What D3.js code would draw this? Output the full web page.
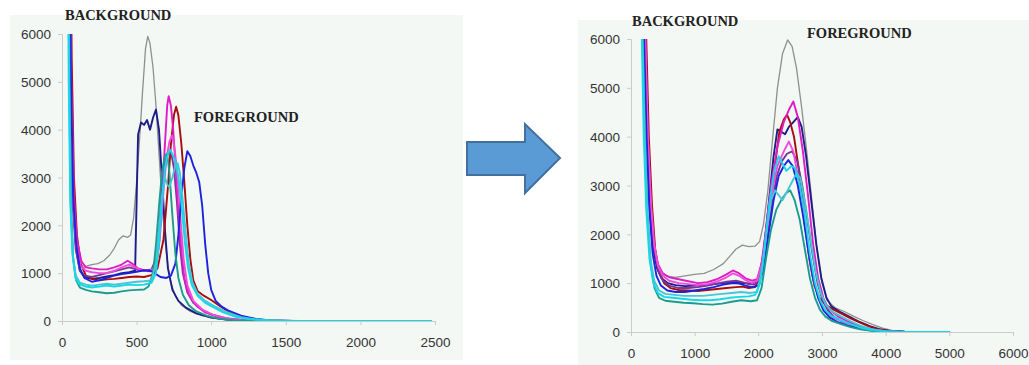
<!DOCTYPE html>
<html>
<head>
<meta charset="utf-8">
<script src="https://cdn.jsdelivr.net/npm/d3@7"></script>
<style>
  body { margin: 0; background: #fff; }
  svg { display: block; }
  .tick text { font-family: "Liberation Sans", Arial, sans-serif; font-size: 13.5px; fill: #333; }
  .lbl { font-family: "Liberation Serif", "Times New Roman", serif; font-weight: bold; font-size: 14.5px; fill: #222; }
</style>
</head>
<body>
<div id="chart"></div>
<script>
// --- data: histograms before (left) and after (right) ---
const seriesNames = ['gray', 'navy', 'darkred', 'purple', 'magenta', 'pink', 'blue', 'teal', 'lightcyan', 'cyan']
const seriesColors = ['#8f8f8f', '#1d1d8a', '#a80c0c', '#7a3598', '#e01cc6', '#f04cdc', '#1c22e0', '#1a9c8e', '#46c6d6', '#18d6e8']

const leftXTicks = [0, 500, 1000, 1500, 2000, 2500]
const rightXTicks = [0, 1000, 2000, 3000, 4000, 5000, 6000]
const yTicks = [0, 1000, 2000, 3000, 4000, 5000, 6000]

const leftGray = [[45,9000],[55,5000],[70,2500],[90,1600],[110,1250],[140,1120],[170,1150],[200,1180],[240,1200],[280,1260],[320,1380],[350,1520],[380,1700],[410,1780],[440,1750],[460,1800],[480,2150],[500,2900],[520,3800],[540,4800],[560,5700],[575,5950],[590,5800],[610,5300],[630,4500],[650,3500],[670,2500],[690,1700],[710,1150],[730,800],[760,520],[800,330],[860,200],[930,120],[1000,70],[1100,30],[1250,10],[1500,0],[2480,0]]
const leftNavy = [[50,9000],[60,5000],[75,2500],[95,1500],[120,1050],[150,920],[200,880],[250,900],[300,930],[350,960],[400,1000],[450,1020],[490,1050],[500,2500],[510,3900],[530,4150],[550,4100],[570,4200],[590,4000],[610,4250],[630,4420],[650,4000],[670,3000],[690,1900],[710,1100],[740,650],[780,420],[830,280],[900,160],[1000,70],[1100,30],[1250,8],[1500,0],[2480,0]]
const leftDarkred = [[55,9000],[65,5500],[80,3000],[100,1800],[125,1200],[160,950],[200,880],[250,850],[300,870],[350,880],[400,900],[450,920],[500,930],[550,920],[600,960],[640,1100],[680,1700],[710,2800],[730,3700],[750,4300],[765,4480],[780,4300],[800,3700],[820,2900],[840,2000],[860,1300],[880,850],[910,620],[950,530],[1000,440],[1050,330],[1100,230],[1150,150],[1200,90],[1300,35],[1400,10],[1550,0],[2480,0]]
const leftPurple = [[48,9000],[58,5000],[72,2500],[92,1500],[120,1050],[150,950],[200,920],[250,960],[300,1000],[350,1040],[400,1080],[450,1120],[500,1080],[550,1050],[600,1080],[630,1300],[650,1900],[670,2800],[690,3300],[710,3500],[730,3550],[750,3200],[770,2500],[790,1600],[810,1000],[840,600],[880,380],[940,230],[1000,140],[1100,60],[1200,20],[1350,5],[1500,0],[2480,0]]
const leftMagenta = [[50,9000],[62,5000],[80,2600],[100,1700],[130,1250],[160,1120],[200,1100],[250,1080],[300,1080],[350,1120],[400,1180],[440,1260],[470,1200],[510,1100],[560,1050],[600,1060],[630,1150],[650,1600],[670,2600],[690,3700],[705,4500],[715,4700],[730,4500],[745,4000],[760,3300],[780,2300],[800,1500],[820,900],[850,550],[900,320],[960,180],[1050,80],[1150,30],[1300,8],[1500,0],[2480,0]]
const leftPink = [[48,9000],[58,5000],[75,2500],[95,1600],[125,1150],[160,1050],[200,1020],[250,1000],[300,1000],[350,1050],[400,1120],[450,1180],[490,1120],[540,1050],[590,1040],[630,1150],[655,1700],[680,2700],[700,3400],[720,3750],[738,3880],[755,3600],[775,3000],[795,2100],[815,1300],[840,750],[880,420],[940,240],[1020,120],[1120,45],[1250,10],[1450,0],[2480,0]]
const leftBlue = [[50,9000],[60,5000],[75,2600],[95,1600],[120,1100],[150,900],[200,820],[250,850],[300,900],[350,950],[400,980],[450,1000],[500,1030],[550,1060],[600,1040],[630,980],[660,920],[700,900],[730,950],[760,1200],[780,1800],[800,2600],[820,3200],[840,3550],[860,3450],[880,3250],[900,3100],[920,2900],[940,2400],[960,1600],[980,1000],[1000,650],[1030,420],[1070,300],[1120,210],[1200,110],[1300,45],[1400,12],[1550,0],[2480,0]]
const leftTeal = [[42,9000],[50,5000],[60,2500],[75,1300],[95,850],[120,700],[160,650],[200,620],[250,600],[300,580],[350,590],[400,620],[450,640],[500,650],[550,660],[580,720],[610,1000],[630,1600],[650,2400],[670,3100],[690,3450],[705,3500],[720,3100],[740,2200],[760,1400],[780,900],[810,550],[850,330],[900,200],[970,110],[1050,50],[1150,15],[1300,0],[2480,0]]
const leftLightcyan = [[40,9000],[48,5000],[58,2500],[72,1400],[92,950],[120,800],[160,760],[200,740],[250,760],[300,780],[350,760],[400,780],[450,800],[500,820],[550,830],[600,850],[630,1200],[650,1900],[670,2600],[690,3000],[705,2850],[720,2800],[740,3000],[760,3250],[775,3300],[790,3100],[810,2500],[830,1800],[850,1200],[875,800],[910,560],[960,420],[1020,310],[1100,190],[1200,80],[1300,30],[1450,5],[1600,0],[2480,0]]
const leftCyan = [[38,9000],[45,5000],[55,2500],[70,1400],[90,900],[120,760],[160,720],[200,700],[250,720],[300,740],[350,720],[400,740],[450,760],[500,750],[550,760],[600,800],[630,1000],[650,1600],[670,2500],[690,3200],[710,3500],[725,3580],[745,3450],[765,3300],[785,2900],[805,2300],[825,1600],[845,1100],[870,750],[910,520],[960,380],[1020,280],[1080,180],[1150,100],[1250,40],[1400,10],[1600,0],[2480,0]]

const rightGray = [[180,9000],[200,6000],[230,4000],[270,2800],[320,2000],[380,1500],[450,1250],[550,1150],[700,1120],[850,1150],[1000,1180],[1150,1200],[1300,1280],[1450,1400],[1550,1550],[1650,1700],[1750,1780],[1850,1750],[1950,1760],[2020,1850],[2080,2200],[2150,2900],[2220,3900],[2300,5000],[2380,5700],[2460,5980],[2530,5850],[2600,5400],[2680,4600],[2760,3700],[2840,2700],[2920,1700],[3000,1000],[3080,650],[3200,500],[3350,420],[3500,320],[3650,230],[3800,150],[3950,80],[4100,35],[4300,10],[4600,0],[5000,0]]
const rightNavy = [[170,9000],[210,6000],[250,4000],[300,2500],[350,1700],[410,1300],[480,1100],[580,1000],[700,960],[850,940],[1000,950],[1150,960],[1300,980],[1450,1000],[1600,1020],[1750,1000],[1900,990],[2000,1050],[2080,1600],[2160,2600],[2240,3600],[2300,4150],[2360,4100],[2420,4050],[2480,4200],[2550,4300],[2620,4400],[2680,4200],[2750,3600],[2830,2700],[2910,1800],[2990,1100],[3070,700],[3150,520],[3300,400],[3450,300],[3600,200],[3750,120],[3900,60],[4050,25],[4300,5],[4600,0],[5000,0]]
const rightDarkred = [[190,9000],[240,6000],[280,4000],[330,2600],[380,1700],[440,1250],[520,1000],[620,900],[750,860],[900,850],[1050,840],[1200,860],[1350,880],[1500,900],[1650,920],[1750,930],[1850,900],[1950,920],[2050,1200],[2150,2200],[2250,3300],[2330,4100],[2400,4350],[2450,4450],[2500,4300],[2560,4000],[2640,3300],[2720,2400],[2800,1500],[2880,950],[2960,700],[3050,560],[3150,480],[3300,380],[3450,280],[3600,190],[3750,110],[3900,50],[4050,20],[4300,0],[5000,0]]
const rightPurple = [[180,9000],[225,6000],[265,4000],[315,2500],[365,1700],[430,1250],[500,1050],[600,950],[750,900],[900,900],[1050,920],[1200,950],[1350,990],[1500,1030],[1650,1050],[1750,1020],[1850,980],[1950,970],[2050,1150],[2130,1800],[2210,2600],[2290,3200],[2370,3500],[2450,3650],[2530,3700],[2610,3500],[2690,3000],[2770,2300],[2850,1600],[2930,1000],[3010,650],[3100,430],[3200,300],[3350,200],[3500,130],[3700,60],[3900,20],[4200,0],[5000,0]]
const rightMagenta = [[170,9000],[220,6000],[260,4000],[310,2600],[360,1800],[420,1400],[500,1200],[600,1120],[750,1080],[900,1040],[1050,1000],[1200,1020],[1350,1080],[1500,1180],[1600,1260],[1700,1200],[1800,1100],[1900,1050],[1980,1080],[2050,1400],[2120,2100],[2200,3000],[2300,3800],[2400,4300],[2480,4550],[2550,4720],[2620,4400],[2700,3700],[2780,2800],[2860,1800],[2940,1100],[3020,700],[3100,480],[3250,320],[3400,220],[3600,120],[3800,50],[4000,15],[4300,0],[5000,0]]
const rightPink = [[175,9000],[225,6000],[265,4000],[315,2600],[365,1800],[425,1350],[500,1150],[600,1050],[750,1000],[900,980],[1050,960],[1200,980],[1350,1030],[1500,1120],[1600,1200],[1700,1150],[1800,1060],[1900,1000],[1980,1050],[2060,1400],[2140,2100],[2220,2900],[2300,3400],[2400,3700],[2480,3900],[2550,3700],[2620,3200],[2700,2500],[2780,1700],[2860,1100],[2940,700],[3020,480],[3150,320],[3300,220],[3500,120],[3700,50],[3900,15],[4200,0],[5000,0]]
const rightBlue = [[165,9000],[205,6000],[245,4000],[290,2500],[340,1600],[400,1150],[470,950],[570,850],[700,820],[850,820],[1000,850],[1150,880],[1300,920],[1450,970],[1600,1000],[1700,990],[1800,950],[1900,920],[2000,950],[2080,1300],[2160,2000],[2240,2700],[2320,3200],[2400,3400],[2470,3520],[2540,3400],[2620,3000],[2700,2400],[2780,1700],[2860,1100],[2940,700],[3020,450],[3120,300],[3250,200],[3400,130],[3600,70],[3800,30],[4000,10],[4300,0],[5000,0]]
const rightTeal = [[155,9000],[185,6000],[220,4000],[260,2400],[310,1400],[370,900],[440,700],[540,640],[680,620],[830,600],[980,590],[1130,570],[1280,560],[1430,580],[1580,620],[1730,650],[1880,630],[1980,650],[2050,900],[2120,1500],[2200,2100],[2280,2500],[2360,2700],[2440,2850],[2500,2900],[2570,2700],[2650,2300],[2730,1700],[2810,1100],[2890,700],[2970,450],[3050,320],[3150,230],[3300,160],[3450,100],[3600,55],[3800,20],[4000,5],[4300,0],[5000,0]]
const rightLightcyan = [[150,9000],[180,6000],[215,4000],[255,2500],[305,1500],[365,1050],[440,850],[540,780],[680,760],[830,740],[980,740],[1130,740],[1280,760],[1430,780],[1580,800],[1730,820],[1880,800],[1980,820],[2060,1300],[2130,2100],[2200,2700],[2260,2900],[2320,2800],[2380,2700],[2440,2850],[2520,3050],[2600,3250],[2660,3150],[2740,2600],[2820,1900],[2900,1250],[2980,800],[3060,560],[3160,420],[3300,320],[3450,220],[3600,130],[3800,50],[4000,15],[4300,0],[5000,0]]
const rightCyan = [[140,9000],[170,6000],[200,4000],[240,2500],[290,1500],[350,1000],[420,800],[520,720],[650,700],[800,680],[950,660],[1100,650],[1250,650],[1400,670],[1550,700],[1700,720],[1850,730],[1950,760],[2030,1000],[2100,1700],[2170,2600],[2250,3300],[2320,3600],[2380,3450],[2440,3300],[2520,3400],[2580,3350],[2650,3000],[2730,2400],[2810,1600],[2890,1000],[2970,650],[3050,450],[3150,330],[3300,240],[3450,160],[3600,90],[3800,35],[4000,10],[4300,0],[5000,0]]

const leftSeries = [leftGray, leftNavy, leftDarkred, leftPurple, leftMagenta, leftPink, leftBlue, leftTeal, leftLightcyan, leftCyan]
const rightSeries = [rightGray, rightNavy, rightDarkred, rightPurple, rightMagenta, rightPink, rightBlue, rightTeal, rightLightcyan, rightCyan]

// --- layout ---
const W = 1029, H = 365

const panels = [
  {
    id: 'l', bg: [10, 15, 463, 360],
    xr: [62, 435], yr: [321, 34], xmax: 2500, xt: leftXTicks, series: leftSeries,
    labels: [{ t: 'BACKGROUND', x: 65, y: 20 }, { t: 'FOREGROUND', x: 194, y: 122 }]
  },
  {
    id: 'r', bg: [578, 20, 1029, 365],
    xr: [631, 1013], yr: [332, 39], xmax: 6000, xt: rightXTicks, series: rightSeries,
    labels: [{ t: 'BACKGROUND', x: 632, y: 26 }, { t: 'FOREGROUND', x: 807, y: 38 }]
  }
]

const svg = d3.select('#chart').append('svg')
  .attr('width', W)
  .attr('height', H)

panels.forEach(p => {
  svg.append('rect')
    .attr('x', p.bg[0]).attr('y', p.bg[1])
    .attr('width', p.bg[2] - p.bg[0]).attr('height', p.bg[3] - p.bg[1])
    .attr('fill', '#f3f8f5')

  const x = d3.scaleLinear().domain([0, p.xmax]).range(p.xr)
  const y = d3.scaleLinear().domain([0, 6000]).range(p.yr)

  const yAxis = d3.axisLeft(y).tickValues(yTicks).tickSize(4).tickPadding(7).tickFormat(d3.format('d'))
  const xAxis = d3.axisBottom(x).tickValues(p.xt).tickSize(4).tickPadding(12).tickFormat(d3.format('d'))

  const gy = svg.append('g').attr('transform', `translate(${p.xr[0]},0)`).call(yAxis)
  const gx = svg.append('g').attr('transform', `translate(0,${p.yr[0]})`).call(xAxis)
  ;[gy, gx].forEach(g => {
    g.select('.domain').attr('stroke', '#c9cdc9')
    g.selectAll('.tick line').attr('stroke', '#c9cdc9')
  })
  gy.selectAll('.tick text').attr('dy', '0.35em')

  svg.append('clipPath').attr('id', 'clip-' + p.id)
    .append('rect')
    .attr('x', p.xr[0]).attr('y', p.yr[1])
    .attr('width', p.xr[1] - p.xr[0] + 2).attr('height', p.yr[0] - p.yr[1])

  const line = d3.line().x(d => x(d[0])).y(d => y(d[1]))

  svg.append('g').attr('clip-path', `url(#clip-${p.id})`)
    .selectAll('path')
    .data(p.series)
    .join('path')
    .attr('d', line)
    .attr('fill', 'none')
    .attr('stroke', (d, i) => seriesColors[i])
    .attr('stroke-width', (d, i) => i === 0 ? 1.3 : 1.9)
    .attr('stroke-linejoin', 'round')

  svg.selectAll(null)
    .data(p.labels)
    .enter()
    .append('text')
    .attr('class', 'lbl')
    .attr('x', d => d.x)
    .attr('y', d => d.y)
    .text(d => d.t)
})

// arrow between panels
const arrow = [[467, 142], [525, 142], [525, 124], [560, 158], [525, 193], [525, 175], [467, 175]]
svg.append('path')
  .attr('d', d3.line()(arrow) + 'Z')
  .attr('fill', '#5b9bd5')
  .attr('stroke', '#41719c')
  .attr('stroke-width', 2)
</script>
</body>
</html>
